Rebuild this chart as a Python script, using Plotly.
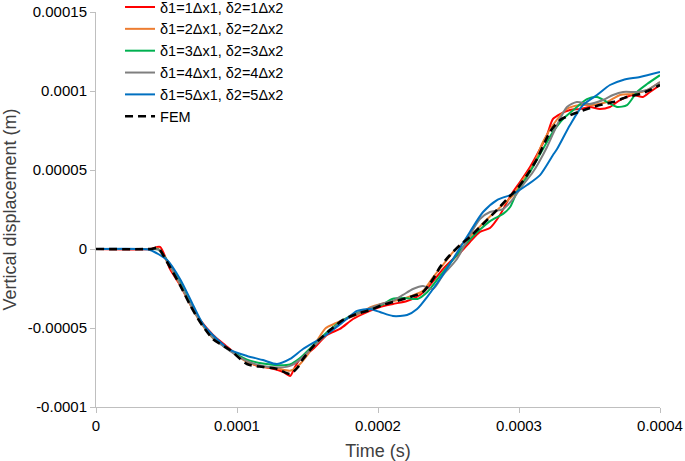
import plotly.graph_objects as go

# time in units of 1e-4 s, displacement in units of 1e-4 m
SCALE = 1e-4

t_d1 = [0, 0.383, 0.454, 0.525, 0.596, 0.667, 0.738, 0.830, 0.915, 1.021, 1.128, 1.234, 1.326, 1.376, 1.411, 1.447,
        1.539, 1.638, 1.730, 1.823, 1.922, 2.014, 2.106, 2.206, 2.298, 2.369, 2.461, 2.525, 2.582, 2.652, 2.723,
        2.794, 2.865, 2.915, 2.957, 3.007, 3.078, 3.149, 3.199, 3.241, 3.291, 3.362, 3.433, 3.504, 3.574, 3.645,
        3.716, 3.809, 3.879, 3.929, 4.0]
u_d1 = [0, 0, 0.013, -0.127, -0.228, -0.348, -0.449, -0.544, -0.608, -0.684, -0.734, -0.753, -0.778, -0.804, -0.747,
        -0.696, -0.633, -0.544, -0.506, -0.443, -0.399, -0.367, -0.348, -0.329, -0.291, -0.228, -0.127, -0.070,
        -0.025, 0.044, 0.108, 0.133, 0.215, 0.297, 0.361, 0.424, 0.519, 0.633, 0.722, 0.823, 0.854, 0.880, 0.886,
        0.899, 0.886, 0.899, 0.943, 0.975, 0.962, 0.994, 1.038]

t_d2 = [0, 0.383, 0.44, 0.504, 0.596, 0.667, 0.738, 0.83, 0.95, 1.071, 1.184, 1.284, 1.376, 1.433, 1.50, 1.567,
        1.63, 1.70, 1.78, 1.87, 1.943, 2.035, 2.135, 2.227, 2.319, 2.39, 2.461, 2.532, 2.62, 2.72, 2.80, 2.886,
        2.957, 3.028, 3.099, 3.170, 3.241, 3.34, 3.433, 3.525, 3.624, 3.716, 3.809, 3.908, 4.0]
u_d2 = [0, 0, 0.003, -0.08, -0.225, -0.35, -0.46, -0.565, -0.64, -0.715, -0.745, -0.755, -0.77, -0.74, -0.67, -0.58,
        -0.50, -0.47, -0.44, -0.41, -0.37, -0.345, -0.325, -0.30, -0.265, -0.18, -0.10, -0.02, 0.05, 0.14, 0.21,
        0.28, 0.34, 0.44, 0.53, 0.677, 0.785, 0.886, 0.911, 0.911, 0.930, 0.975, 0.981, 1.006, 1.057]

t_d3 = [0, 0.383, 0.44, 0.504, 0.596, 0.667, 0.738, 0.83, 0.95, 1.071, 1.184, 1.284, 1.376, 1.447, 1.539, 1.66,
        1.752, 1.851, 1.943, 2.035, 2.10, 2.19, 2.28, 2.35, 2.44, 2.53, 2.62, 2.72, 2.80, 2.887, 2.937, 2.986,
        3.078, 3.170, 3.241, 3.312, 3.411, 3.482, 3.553, 3.624, 3.695, 3.766, 3.837, 3.908, 4.0]
u_d3 = [0, 0, -0.003, -0.07, -0.21, -0.34, -0.45, -0.56, -0.64, -0.70, -0.725, -0.735, -0.73, -0.69, -0.61, -0.51,
        -0.45, -0.405, -0.38, -0.35, -0.316, -0.31, -0.316, -0.272, -0.17, -0.07, 0.03, 0.12, 0.18, 0.222, 0.266,
        0.361, 0.487, 0.633, 0.741, 0.823, 0.899, 0.949, 0.962, 0.930, 0.899, 0.911, 0.994, 1.044, 1.10]

t_d4 = [0, 0.383, 0.44, 0.504, 0.596, 0.667, 0.738, 0.83, 0.95, 1.071, 1.184, 1.284, 1.376, 1.447, 1.539, 1.66,
        1.752, 1.851, 1.943, 2.035, 2.10, 2.177, 2.248, 2.319, 2.39, 2.461, 2.56, 2.652, 2.723, 2.794, 2.887,
        2.957, 3.028, 3.099, 3.199, 3.27, 3.34, 3.41, 3.50, 3.596, 3.667, 3.738, 3.837, 3.908, 4.0]
u_d4 = [0, 0, -0.003, -0.075, -0.22, -0.345, -0.455, -0.56, -0.645, -0.71, -0.74, -0.75, -0.74, -0.70, -0.62, -0.52,
        -0.455, -0.41, -0.375, -0.345, -0.33, -0.291, -0.253, -0.234, -0.253, -0.165, -0.063, 0.089, 0.190, 0.234,
        0.253, 0.316, 0.405, 0.487, 0.646, 0.785, 0.899, 0.930, 0.918, 0.943, 0.975, 0.994, 0.994, 1.006, 1.057]

t_d5 = [0, 0.312, 0.383, 0.504, 0.596, 0.688, 0.759, 0.858, 0.950, 1.071, 1.184, 1.284, 1.376, 1.468, 1.610, 1.752,
        1.851, 1.943, 2.014, 2.106, 2.206, 2.277, 2.348, 2.440, 2.532, 2.652, 2.745, 2.844, 2.957, 3.057, 3.149,
        3.241, 3.270, 3.362, 3.454, 3.553, 3.645, 3.738, 3.858, 4.0]
u_d5 = [0, 0, -0.006, -0.070, -0.190, -0.354, -0.475, -0.570, -0.639, -0.677, -0.703, -0.728, -0.696, -0.633,
        -0.557, -0.462, -0.392, -0.380, -0.399, -0.424, -0.418, -0.380, -0.304, -0.190, -0.063, 0.108, 0.234,
        0.310, 0.348, 0.405, 0.468, 0.595, 0.633, 0.785, 0.911, 0.975, 1.038, 1.070, 1.089, 1.120]

t_fem = [0, 0.383, 0.44, 0.504, 0.596, 0.667, 0.738, 0.830, 0.950, 1.071, 1.184, 1.284, 1.376, 1.433, 1.468, 1.567,
         1.660, 1.752, 1.851, 1.943, 2.035, 2.135, 2.227, 2.319, 2.390, 2.440, 2.511, 2.582, 2.652, 2.723, 2.816,
         2.915, 2.986, 3.057, 3.128, 3.220, 3.291, 3.383, 3.482, 3.574, 3.667, 3.766, 3.858, 3.929, 4.0]
u_fem = [0, 0, 0.006, -0.082, -0.228, -0.354, -0.462, -0.570, -0.639, -0.728, -0.747, -0.759, -0.791, -0.747, -0.696,
         -0.589, -0.513, -0.449, -0.411, -0.386, -0.354, -0.329, -0.304, -0.272, -0.190, -0.114, -0.038, 0.025,
         0.076, 0.139, 0.222, 0.316, 0.380, 0.468, 0.570, 0.741, 0.816, 0.854, 0.886, 0.911, 0.930, 0.962, 0.981,
         1.006, 1.038]

series_names = ["δ1=1Δx1, δ2=1Δx2", "δ1=2Δx1, δ2=2Δx2", "δ1=3Δx1, δ2=3Δx2",
                "δ1=4Δx1, δ2=4Δx2", "δ1=5Δx1, δ2=5Δx2", "FEM"]
series_colors = ["#FF0000", "#ED7D31", "#00B050", "#7F7F7F", "#0070C0", "#000000"]

x_tickvals = [0, 1, 2, 3, 4]
x_ticktext = ["0", "0.0001", "0.0002", "0.0003", "0.0004"]
y_tickvals = [-1.0, -0.5, 0, 0.5, 1.0, 1.5]
y_ticktext = ["-0.0001", "-0.00005", "0", "0.00005", "0.0001", "0.00015"]

FONT = "Liberation Sans, Arial, sans-serif"

fig = go.Figure()
data = [(t_d1, u_d1), (t_d2, u_d2), (t_d3, u_d3), (t_d4, u_d4), (t_d5, u_d5), (t_fem, u_fem)]
for (t, u), name, col in zip(data, series_names, series_colors):
    is_fem = name == "FEM"
    fig.add_trace(go.Scatter(
        x=[v * SCALE for v in t], y=[v * SCALE for v in u], name=name, mode="lines",
        line=dict(color=col, width=2.6 if is_fem else 2, shape="spline", smoothing=0.7,
                  dash="8px,5px" if is_fem else "solid"),
    ))

fig.update_layout(
    width=685, height=461,
    margin=dict(l=96, r=25, t=12, b=54, autoexpand=False),
    paper_bgcolor="white", plot_bgcolor="white",
    font=dict(family=FONT, size=15, color="#404040"),
    showlegend=True,
    legend=dict(x=0.0426, y=1.053, xanchor="left", yanchor="top", bgcolor="rgba(0,0,0,0)",
                font=dict(size=14.5, color="#000000"), tracegroupgap=0),
    xaxis=dict(range=[0, 4 * SCALE], tickvals=[v * SCALE for v in x_tickvals], ticktext=x_ticktext,
               showgrid=False, zeroline=False, showline=True, linecolor="#BFBFBF", linewidth=1,
               ticks="outside", ticklen=5, tickcolor="#BFBFBF", automargin=False,
               title=dict(text="Time (s)", standoff=12), tickfont=dict(color="#000000")),
    yaxis=dict(range=[-1.0 * SCALE, 1.5 * SCALE], tickvals=[v * SCALE for v in y_tickvals], ticktext=y_ticktext,
               showgrid=False, zeroline=False, showline=True, linecolor="#BFBFBF", linewidth=1,
               ticks="outside", ticklen=5, tickcolor="#BFBFBF", automargin=False,
               title=dict(text="Vertical displacement (m)", standoff=6), tickfont=dict(color="#000000")),
)

fig.write_html("out.html", config={"displayModeBar": False},
               post_script="document.body.style.margin='0';")
